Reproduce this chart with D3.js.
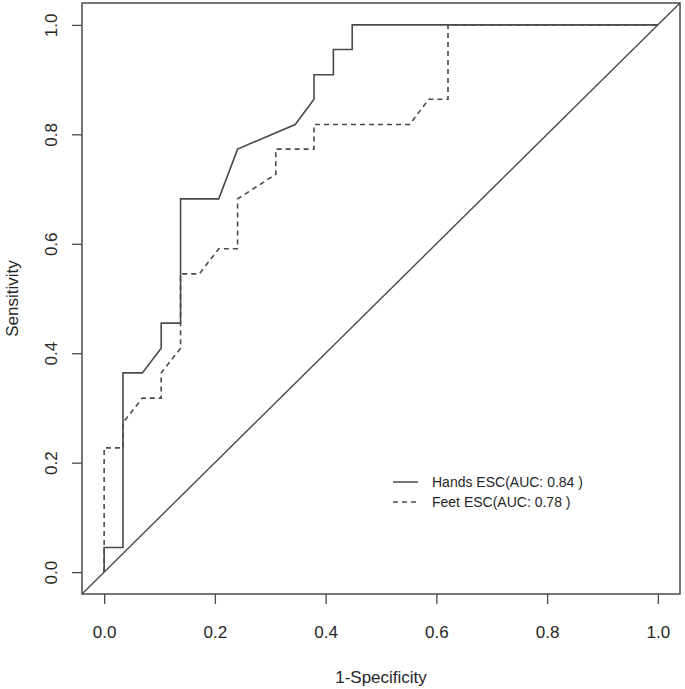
<!DOCTYPE html>
<html>
<head>
<meta charset="utf-8">
<script src="https://cdn.jsdelivr.net/npm/d3@7"></script>
<style>
  body { margin: 0; background: #fff; }
  svg text { font-family: "Liberation Sans", Arial, sans-serif; fill: #262626; }
</style>
</head>
<body>
<svg id="roc_chart"></svg>
<script>
// ROC curve points (x = 1-specificity, y = sensitivity)
const handsFpr = [0, 0, 0.034, 0.034, 0.069, 0.103, 0.103, 0.138, 0.138, 0.207, 0.241, 0.345, 0.379, 0.379, 0.414, 0.414, 0.448, 0.448, 1]
const handsTpr = [0, 0.045, 0.045, 0.364, 0.364, 0.409, 0.455, 0.455, 0.682, 0.682, 0.773, 0.818, 0.864, 0.909, 0.909, 0.955, 0.955, 1, 1]

const feetFpr = [0, 0, 0.034, 0.034, 0.069, 0.103, 0.103, 0.138, 0.138, 0.172, 0.207, 0.241, 0.241, 0.310, 0.310, 0.379, 0.379, 0.552, 0.586, 0.621, 0.621, 1]
const feetTpr = [0, 0.227, 0.227, 0.273, 0.318, 0.318, 0.364, 0.409, 0.545, 0.545, 0.591, 0.591, 0.682, 0.727, 0.773, 0.773, 0.818, 0.818, 0.864, 0.864, 1, 1]

const tickValues = [0, 0.2, 0.4, 0.6, 0.8, 1.0]
const legendLabels = ['Hands ESC(AUC: 0.84 )', 'Feet ESC(AUC: 0.78 )']
const legendDash = [null, '5,4']

let roc_m = {top: 3, left: 82, right: 5, bottom: 95}
let roc_w = 685
let roc_h = 689

let xScale = d3.scaleLinear().domain([-0.04, 1.04]).range([roc_m.left, roc_w - roc_m.right])
let yScale = d3.scaleLinear().domain([-0.04, 1.04]).range([roc_h - roc_m.bottom, roc_m.top])

let svg = d3.select('#roc_chart')
    .attr('width', roc_w)
    .attr('height', roc_h)

const lineColor = '#4a4a4a'

// x-axis
svg.append('g')
    .attr('transform', `translate(0, ${yScale(-0.04)})`)
    .call(d3.axisBottom(xScale).tickValues(tickValues).tickFormat(d3.format('.1f')).tickSize(10))
    .call(g => g.select('.domain').remove())
    .call(g => g.selectAll('.tick line').attr('stroke', lineColor).attr('stroke-width', 1.3))
    .call(g => g.selectAll('.tick text')
        .attr('y', 38).attr('dy', '0.35em')
        .style('font-size', '17px'))

// y-axis, labels parallel to the axis
svg.append('g')
    .attr('transform', `translate(${xScale(-0.04)}, 0)`)
    .call(d3.axisLeft(yScale).tickValues(tickValues).tickFormat(d3.format('.1f')).tickSize(10))
    .call(g => g.select('.domain').remove())
    .call(g => g.selectAll('.tick line').attr('stroke', lineColor).attr('stroke-width', 1.3))
    .call(g => g.selectAll('.tick text')
        .attr('transform', 'rotate(-90)')
        .attr('x', 0).attr('y', -31).attr('dy', '0.35em')
        .attr('text-anchor', 'middle')
        .style('font-size', '17px'))

// plot box
svg.append('rect')
    .attr('x', xScale(-0.04))
    .attr('y', yScale(1.04))
    .attr('width', xScale(1.04) - xScale(-0.04))
    .attr('height', yScale(-0.04) - yScale(1.04))
    .attr('fill', 'none')
    .attr('stroke', lineColor)
    .attr('stroke-width', 1.5)

// reference diagonal across the whole box
svg.append('line')
    .attr('x1', xScale(-0.04)).attr('y1', yScale(-0.04))
    .attr('x2', xScale(1.04)).attr('y2', yScale(1.04))
    .attr('stroke', lineColor)
    .attr('stroke-width', 1.4)

let rocLine = d3.line()
    .x(d => xScale(d[0]))
    .y(d => yScale(d[1]))

// hands (solid)
svg.append('path')
    .datum(d3.zip(handsFpr, handsTpr))
    .attr('d', rocLine)
    .attr('fill', 'none')
    .attr('stroke', lineColor)
    .attr('stroke-width', 1.6)

// feet (dashed)
svg.append('path')
    .datum(d3.zip(feetFpr, feetTpr))
    .attr('d', rocLine)
    .attr('fill', 'none')
    .attr('stroke', lineColor)
    .attr('stroke-width', 1.6)
    .attr('stroke-dasharray', '5,4')

// axis titles
svg.append('text')
    .text('1-Specificity')
    .attr('x', (xScale(-0.04) + xScale(1.04)) / 2)
    .attr('y', 677).attr('dy', '0.35em')
    .attr('text-anchor', 'middle')
    .style('font-size', '17px')

svg.append('text')
    .text('Sensitivity')
    .attr('transform', `translate(12, ${(yScale(-0.04) + yScale(1.04)) / 2}) rotate(-90)`)
    .attr('dy', '0.35em')
    .attr('text-anchor', 'middle')
    .style('font-size', '17px')

// legend
let legend = svg.append('g').attr('transform', 'translate(393, 482)')
legendLabels.forEach(function(lab, i) {
    let row = legend.append('g').attr('transform', `translate(0, ${i * 20})`)
    row.append('line')
        .attr('x1', 0).attr('x2', 25).attr('y1', 0).attr('y2', 0)
        .attr('stroke', lineColor)
        .attr('stroke-width', 1.5)
        .attr('stroke-dasharray', legendDash[i])
    row.append('text')
        .text(lab)
        .attr('x', 39).attr('dy', '0.35em')
        .style('font-size', '14px')
})
</script>
</body>
</html>
